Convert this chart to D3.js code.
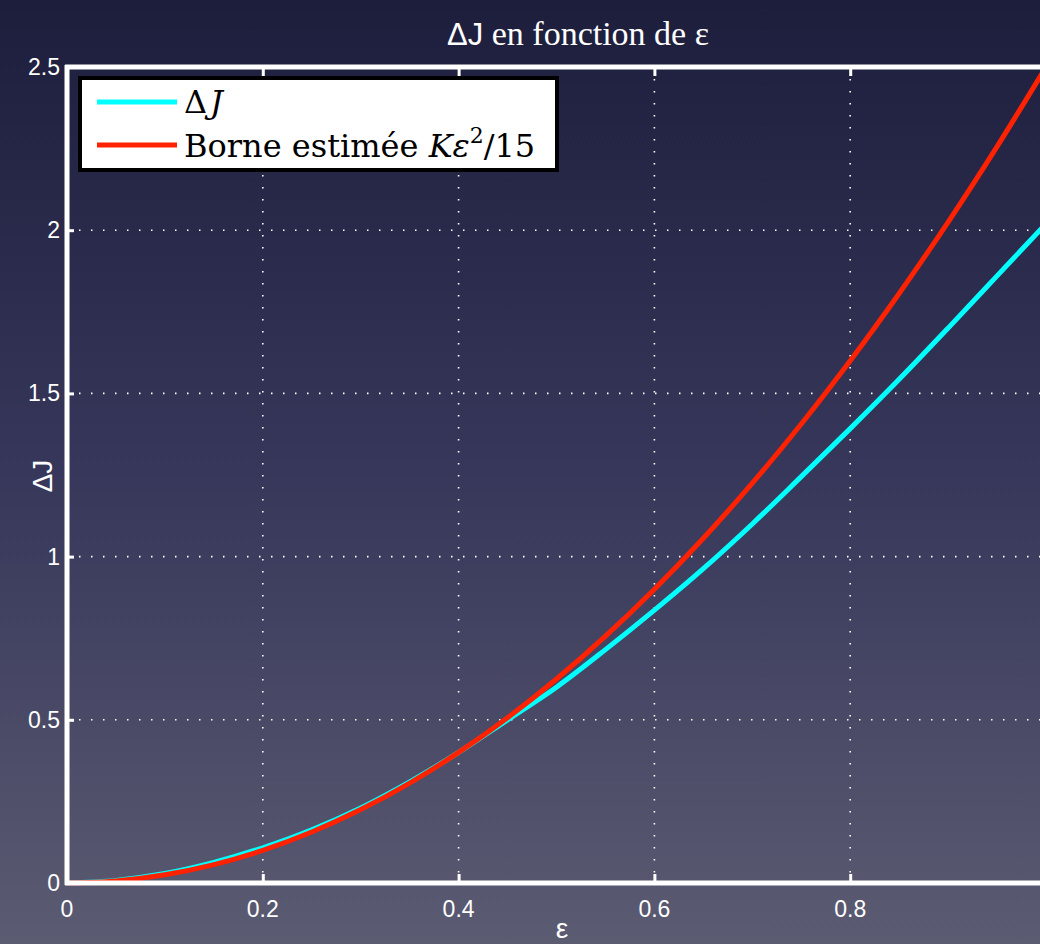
<!DOCTYPE html>
<html><head><meta charset="utf-8">
<script src="https://cdn.jsdelivr.net/npm/d3@7"></script>
<style>html,body{margin:0;padding:0;background:#2a2b4a;overflow:hidden}</style>
</head><body>
<svg id="chart" width="1040" height="944"></svg>
<script>
const epsilon = [0,0.05,0.1,0.15,0.2,0.25,0.3,0.35,0.4,0.45,0.5,0.55,0.6,0.65,0.7,0.75,0.8,0.85,0.9,0.95,1.0];
const deltaJ = [0,0.008,0.029,0.063,0.108,0.163,0.23,0.31,0.40,0.50,0.60,0.715,0.836,0.963,1.10,1.245,1.392,1.543,1.70,1.86,2.02];
const borne = [0,0.00625,0.025,0.05625,0.1,0.15625,0.225,0.30625,0.4,0.50625,0.625,0.75625,0.9,1.05625,1.225,1.40625,1.6,1.80625,2.025,2.25625,2.5];
const xTicks = [0,0.2,0.4,0.6,0.8,1];
const yTicks = [0,0.5,1,1.5,2,2.5];
const xTickLabels = ["0","0.2","0.4","0.6","0.8","1"];
const yTickLabels = ["0","0.5","1","1.5","2","2.5"];

const svg = d3.select("#chart");
const W = 1040, H = 944;
const defs = svg.append("defs");
const bg = defs.append("linearGradient").attr("id","bg").attr("x1",0).attr("y1",0).attr("x2",0).attr("y2",1);
bg.append("stop").attr("offset","0%").attr("stop-color","#1d1e3c");
bg.append("stop").attr("offset","50%").attr("stop-color","#36375a");
bg.append("stop").attr("offset","100%").attr("stop-color","#5b5b72");
svg.append("rect").attr("width",W).attr("height",H).attr("fill","url(#bg)");

const x = d3.scaleLinear().domain([0,1]).range([67,1046]);
const y = d3.scaleLinear().domain([0,2.5]).range([883,67]);

// grid
const grid = svg.append("g").attr("stroke","#ffffff").attr("stroke-width",1.6).attr("stroke-dasharray","1.5,10.5");
grid.selectAll(".vg").data(xTicks.filter(d=>d>0&&d<1)).join("line")
  .attr("x1",d=>x(d)).attr("x2",d=>x(d)).attr("y1",y(2.5)).attr("y2",y(0));
grid.selectAll(".hg").data(yTicks.filter(d=>d>0&&d<2.5)).join("line")
  .attr("x1",x(0)).attr("x2",x(1)).attr("y1",d=>y(d)).attr("y2",d=>y(d));

// curves
const line = d3.line().x((d,i)=>x(epsilon[i])).y(d=>y(d)).curve(d3.curveCatmullRom);
svg.append("path").attr("d",line(deltaJ)).attr("fill","none").attr("stroke","#00ffff").attr("stroke-width",5);
svg.append("path").attr("d",line(borne)).attr("fill","none").attr("stroke","#ff2200").attr("stroke-width",5);

// axes (box)
const axisG = svg.append("g");
const xAxisB = d3.axisBottom(x).tickValues(xTicks).tickSize(-9).tickFormat("");
const xAxisT = d3.axisTop(x).tickValues(xTicks).tickSize(-9).tickFormat("");
const yAxisL = d3.axisLeft(y).tickValues(yTicks).tickSize(-7).tickFormat("");
function styleAxis(g){
  g.select(".domain").remove();
  g.selectAll(".tick line").attr("stroke","#ffffff").attr("stroke-width",3);
}
axisG.append("g").attr("transform",`translate(0,${y(0)})`).call(xAxisB).call(styleAxis);
axisG.append("g").attr("transform",`translate(0,${y(2.5)})`).call(xAxisT).call(styleAxis);
axisG.append("g").attr("transform",`translate(${x(0)},0)`).call(yAxisL).call(styleAxis);
axisG.append("line").attr("x1",x(0)-2).attr("x2",x(1)).attr("y1",y(0)).attr("y2",y(0)).attr("stroke","#fff").attr("stroke-width",5);
axisG.append("line").attr("x1",x(0)-2).attr("x2",x(1)).attr("y1",y(2.5)).attr("y2",y(2.5)).attr("stroke","#fff").attr("stroke-width",5);
axisG.append("line").attr("x1",x(0)).attr("x2",x(0)).attr("y1",y(2.5)-2).attr("y2",y(0)+2).attr("stroke","#fff").attr("stroke-width",5);

// tick labels
const lab = svg.append("g").attr("fill","#ffffff").attr("font-family","'Liberation Sans', Arial, sans-serif").attr("font-size",23);
lab.selectAll(".xl").data(xTicks.filter(d=>d<1)).join("text")
  .attr("x",d=>x(d)).attr("y",917).attr("text-anchor","middle")
  .text((d,i)=>xTickLabels[i]);
lab.selectAll(".yl").data(yTicks).join("text")
  .attr("x",60).attr("y",d=>y(d)+8).attr("text-anchor","end")
  .text((d,i)=>yTickLabels[i]);

// axis titles
svg.append("text").attr("x",562).attr("y",938).attr("text-anchor","middle").attr("fill","#fff")
  .attr("font-family","'Liberation Sans', Arial, sans-serif").attr("font-size",28).text("ε");
svg.append("text").attr("transform","translate(52,476) rotate(-90)").attr("text-anchor","middle").attr("fill","#fff")
  .attr("font-family","'Liberation Sans', Arial, sans-serif").attr("font-size",28).text("ΔJ");

// title
const title = svg.append("text").attr("x",578).attr("y",45).attr("text-anchor","middle").attr("fill","#fff")
  .attr("font-family","'Liberation Serif', 'DejaVu Serif', serif").attr("font-size",34);
title.append("tspan").attr("font-family","'Liberation Sans', Arial, sans-serif").attr("font-size",31).text("ΔJ");
title.append("tspan").text(" en fonction de ε");

// legend
const leg = svg.append("g");
leg.append("rect").attr("x",80).attr("y",78).attr("width",477).attr("height",92)
  .attr("fill","#ffffff").attr("stroke","#000000").attr("stroke-width",4);
const legItems = [{c:"#00ffff",y:102},{c:"#ff2200",y:145}];
leg.selectAll(".ll").data(legItems).join("line")
  .attr("x1",97).attr("x2",177).attr("y1",d=>d.y).attr("y2",d=>d.y).attr("stroke",d=>d.c).attr("stroke-width",5);
const t1 = leg.append("text").attr("x",184).attr("y",113).attr("fill","#000")
  .attr("font-family","'DejaVu Serif', serif").attr("font-size",32);
t1.append("tspan").text("Δ");
t1.append("tspan").attr("font-style","italic").attr("dx",3).text("J");
const t2 = leg.append("text").attr("x",184).attr("y",157).attr("fill","#000")
  .attr("font-family","'DejaVu Serif', serif").attr("font-size",32);
t2.append("tspan").text("Borne estimée ");
t2.append("tspan").attr("font-style","italic").text("Kε");
t2.append("tspan").attr("font-size",22).attr("dy",-14).text("2");
t2.append("tspan").attr("dy",14).text("/15");
</script>
</body></html>
